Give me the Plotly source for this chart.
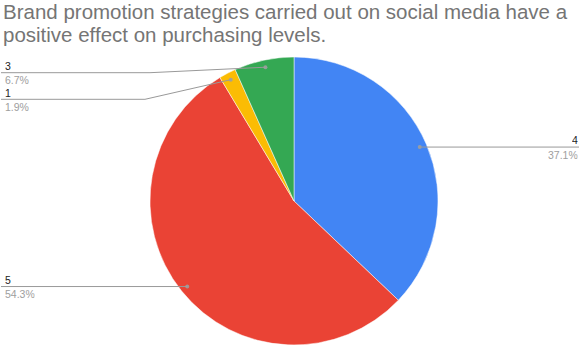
import math
import plotly.graph_objects as go

# Survey responses (Likert score) and their share of answers
categories = ["4", "5", "1", "3"]
shares = [37.1, 54.3, 1.9, 6.7]
colors = ["#4285F4", "#EA4335", "#FBBC04", "#34A853"]

title_lines = ["Brand promotion strategies carried out on social media have a",
               "positive effect on purchasing levels."]

W, H = 582, 346
CX, CY, R = 294.0, 201.0, 144.0      # pie centre and radius in pixels
DOT_R = 0.95                         # leader-line anchor, fraction of radius


def px(x):
    return x / W


def py(y):
    return 1 - y / H


fig = go.Figure(
    go.Pie(
        labels=categories,
        values=shares,
        sort=False,
        direction="clockwise",
        rotation=0,
        marker=dict(colors=colors, line=dict(color="white", width=0.5)),
        textinfo="none",
        hoverinfo="label+percent",
        showlegend=False,
        domain=dict(x=[px(CX - R), px(CX + R)], y=[py(CY + R), py(CY - R)]),
    )
)

# anchor point of each slice's leader line (mid-angle, measured clockwise from 12 o'clock)
total = sum(shares)
anchors = {}
cum = 0.0
for cat, v in zip(categories, shares):
    mid = (cum + v / 2) / total * 2 * math.pi
    anchors[cat] = (CX + DOT_R * R * math.sin(mid), CY - DOT_R * R * math.cos(mid))
    cum += v

# label placement: side, y of the label rule, optional bend x
label_rules = {
    "4": ("right", None, None),
    "5": ("left", None, None),
    "3": ("left", 72.7, 150.0),
    "1": ("left", 99.3, 145.0),
}

LINE = dict(color="#999999", width=1)
LABEL_SIZE = 10.5
LABEL_BOX = 11
shapes = []
annotations = []
for cat, v in zip(categories, shares):
    ax, ay = anchors[cat]
    side, ly, bend = label_rules[cat]
    if ly is None:
        ly = ay
    if side == "right":
        pts = [(ax, ay), (579, ly)]
        tx, xanchor = 579, "right"
    else:
        pts = [(ax, ay)]
        if bend is not None:
            pts.append((bend, ly))
        pts.append((1, ly))
        tx, xanchor = 4, "left"
    path = "M " + " L ".join(f"{px(x):.5f},{py(y):.5f}" for x, y in pts)
    shapes.append(dict(type="path", xref="paper", yref="paper", path=path, line=LINE))
    shapes.append(dict(type="circle", xref="paper", yref="paper",
                       x0=px(ax - 2), x1=px(ax + 2), y0=py(ay + 2), y1=py(ay - 2),
                       fillcolor="#9e9e9e", line=dict(width=0), opacity=0.9))
    annotations.append(dict(x=px(tx), y=py(ly - 7.2), xref="paper", yref="paper",
                            text=cat, showarrow=False, xanchor=xanchor, yanchor="middle",
                            height=LABEL_BOX,
                            font=dict(family="Arial", size=LABEL_SIZE, color="#222222"),
                            borderpad=0))
    annotations.append(dict(x=px(tx), y=py(ly + 7.2), xref="paper", yref="paper",
                            text=f"{v:.1f}%", showarrow=False, xanchor=xanchor, yanchor="middle",
                            height=LABEL_BOX,
                            font=dict(family="Arial", size=LABEL_SIZE, color="#9e9e9e"),
                            borderpad=0))

# two-line title, each line on its own row
TITLE_SIZE = 20.5
for line_text, centre in zip(title_lines, [11.2, 34.5]):
    annotations.append(dict(x=px(1.5), y=py(centre), xref="paper", yref="paper",
                            text=line_text, showarrow=False, xanchor="left", yanchor="middle",
                            align="left", borderpad=0,
                            font=dict(family="Arial", size=TITLE_SIZE, color="#757575")))

fig.update_layout(
    width=W, height=H,
    margin=dict(l=0, r=0, t=0, b=0),
    paper_bgcolor="white",
    plot_bgcolor="white",
    shapes=shapes,
    annotations=annotations,
)

fig.write_html("out.html")
